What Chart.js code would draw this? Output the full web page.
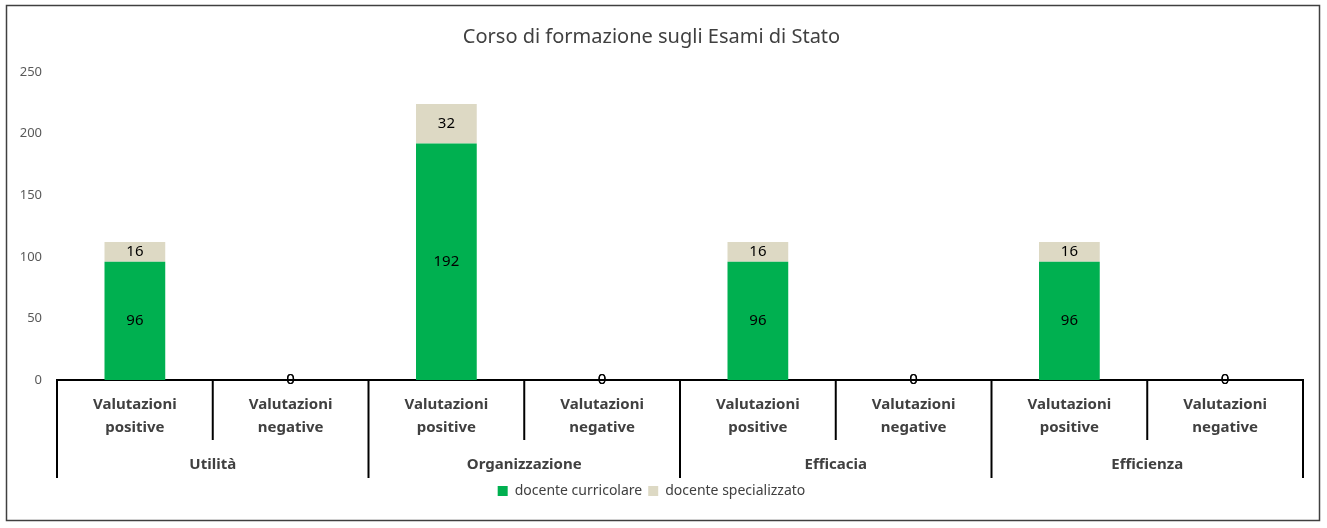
<!DOCTYPE html>
<html>
<head>
<meta charset="utf-8">
<script src="https://cdn.jsdelivr.net/npm/chart.js@4/dist/chart.umd.min.js"></script>
<style>
  html, body { margin: 0; padding: 0; background: #fff; }
  #wrap { width: 1327px; height: 528px; }
</style>
</head>
<body>
<div id="wrap"><canvas id="chart" width="1327" height="528"></canvas></div>
<script>
// dati
var gruppi = ["Utilità", "Organizzazione", "Efficacia", "Efficienza"];
var etichette = [
  ["Valutazioni", "positive"], ["Valutazioni", "negative"],
  ["Valutazioni", "positive"], ["Valutazioni", "negative"],
  ["Valutazioni", "positive"], ["Valutazioni", "negative"],
  ["Valutazioni", "positive"], ["Valutazioni", "negative"]
];
var curricolare = [96, 0, 192, 0, 96, 0, 96, 0];
var specializzato = [16, 0, 32, 0, 16, 0, 16, 0];
var yTicks = [0, 50, 100, 150, 200, 250];

var FONT = "'Noto Sans', 'Open Sans', sans-serif";

// cornice esterna
var cornice = {
  id: "cornice",
  beforeDraw: function(chart) {
    var ctx = chart.ctx;
    ctx.save();
    ctx.fillStyle = "#fff";
    ctx.fillRect(0, 0, chart.width, chart.height);
    ctx.strokeStyle = "#404040";
    ctx.lineWidth = 1.5;
    ctx.strokeRect(6.5, 5.5, 1313, 515);
    ctx.restore();
  }
};

// etichette valori sulle barre
var valori = {
  id: "valori",
  afterDatasetsDraw: function(chart) {
    var ctx = chart.ctx;
    ctx.save();
    ctx.font = "15px " + FONT;
    ctx.fillStyle = "#000";
    ctx.textAlign = "center";
    ctx.textBaseline = "middle";
    chart.data.datasets.forEach(function(ds, di) {
      var meta = chart.getDatasetMeta(di);
      meta.data.forEach(function(bar, i) {
        var y = (bar.y + bar.base) / 2;
        ctx.fillText(String(ds.data[i]), bar.x, y);
      });
    });
    ctx.restore();
  }
};

// separatori e categorie principali sull'asse x
var gruppiAsse = {
  id: "gruppiAsse",
  afterDraw: function(chart) {
    var ctx = chart.ctx;
    var x = chart.scales.x;
    var area = chart.chartArea;
    var top = area.bottom;
    ctx.save();
    ctx.strokeStyle = "#000";
    ctx.lineWidth = 2;
    for (var i = 0; i <= etichette.length; i++) {
      var px;
      if (i === 0) px = area.left;
      else if (i === etichette.length) px = area.right;
      else px = (x.getPixelForValue(i - 1) + x.getPixelForValue(i)) / 2;
      var fine = (i % 2 === 0) ? top + 98 : top + 60;
      ctx.beginPath();
      ctx.moveTo(px, top);
      ctx.lineTo(px, fine);
      ctx.stroke();
    }
    ctx.font = "bold 15px " + FONT;
    ctx.fillStyle = "#404040";
    ctx.textAlign = "center";
    ctx.textBaseline = "middle";
    gruppi.forEach(function(g, k) {
      var cx = (x.getPixelForValue(2 * k) + x.getPixelForValue(2 * k + 1)) / 2;
      ctx.fillText(g, cx, top + 85);
    });
    ctx.restore();
  }
};

var ctx = document.getElementById("chart");
var myChart = new Chart(ctx, {
  type: "bar",
  data: {
    labels: etichette,
    datasets: [{
      label: "docente curricolare",
      data: curricolare,
      backgroundColor: "#00B050"
    }, {
      label: "docente specializzato",
      data: specializzato,
      backgroundColor: "#DDD9C4"
    }]
  },
  options: {
    responsive: false,
    animation: false,
    layout: { padding: { left: 0, right: 24, top: 0, bottom: 20 } },
    datasets: { bar: { categoryPercentage: 1, barPercentage: 0.39 } },
    scales: {
      x: {
        stacked: true,
        grid: { display: false, drawTicks: false },
        border: { display: true, color: "#000", width: 2 },
        ticks: {
          padding: 13,
          color: "#404040",
          font: { family: FONT, size: 15, weight: "bold", lineHeight: 1.55 },
          maxRotation: 0, autoSkip: false
        },
        afterFit: function(s) { s.height = 98; }
      },
      y: {
        stacked: true,
        min: 0, max: 250,
        grid: { display: false, drawTicks: false },
        border: { display: false },
        afterBuildTicks: function(s) { s.ticks = yTicks.map(function(v) { return { value: v }; }); },
        ticks: {
          padding: 15,
          color: "#595959",
          font: { family: FONT, size: 13 }
        },
        afterFit: function(s) { s.width = 57; }
      }
    },
    plugins: {
      title: {
        display: true,
        text: "Corso di formazione sugli Esami di Stato",
        color: "#404040",
        font: { family: FONT, size: 20, weight: "normal" },
        padding: { top: 25, bottom: 23 }
      },
      legend: {
        position: "bottom",
        labels: {
          color: "#404040",
          font: { family: FONT, size: 14 },
          boxWidth: 10, boxHeight: 10,
          padding: 6
        }
      },
      tooltip: { enabled: false }
    }
  },
  plugins: [cornice, valori, gruppiAsse]
});
</script>
</body>
</html>
